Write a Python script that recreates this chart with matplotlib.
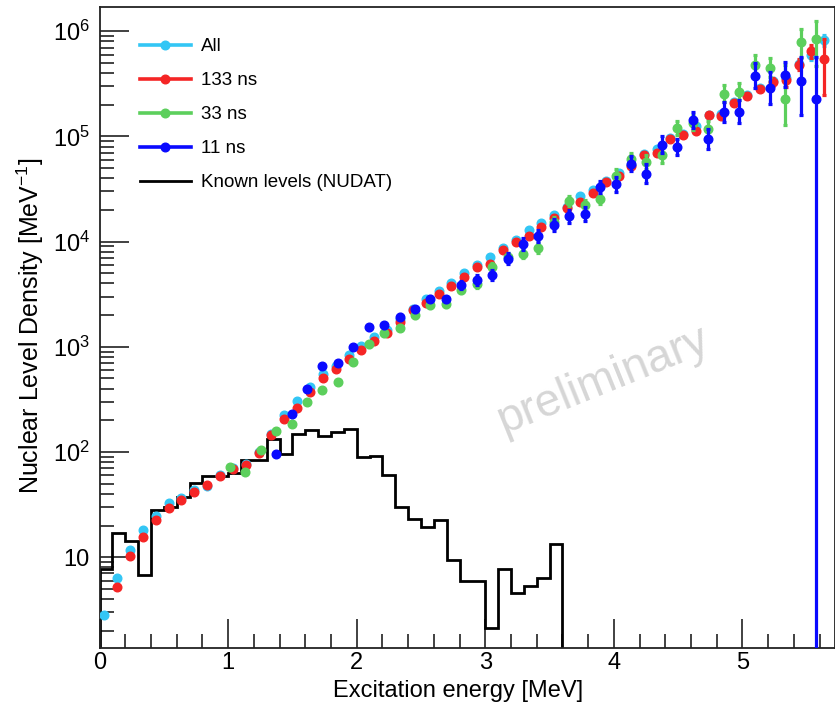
import numpy as np
import matplotlib
matplotlib.use('Agg')
import matplotlib.pyplot as plt
from matplotlib.lines import Line2D
from matplotlib.ticker import FixedLocator, FuncFormatter, NullFormatter

plt.rcParams['font.family'] = ['Liberation Sans', 'DejaVu Sans']
plt.rcParams['mathtext.fontset'] = 'custom'
plt.rcParams['mathtext.rm'] = 'Liberation Sans'
plt.rcParams['mathtext.it'] = 'Liberation Sans:italic'
plt.rcParams['mathtext.bf'] = 'Liberation Sans:bold'

# ---------------- data ----------------
# Known levels (NUDAT) histogram, 0.1 MeV bins starting at 0
nudat_edges = [0.0, 0.1, 0.2, 0.3, 0.4, 0.5, 0.6, 0.7, 0.8, 0.9, 1.0, 1.1, 1.2, 1.3, 1.4,
               1.5, 1.6, 1.7, 1.8, 1.9, 2.0, 2.1, 2.2, 2.3, 2.4, 2.5, 2.6, 2.7, 2.8, 2.9,
               3.0, 3.1, 3.2, 3.3, 3.4, 3.5, 3.6, 3.7, 3.8, 3.9, 4.0, 4.1, 4.2, 4.3, 4.4,
               4.5, 4.6, 4.7, 4.8, 4.9, 5.0, 5.1, 5.2, 5.3, 5.4, 5.5, 5.6, 5.7]
nudat_vals = [7.7, 17.0, 14.1, 6.7, 28, 29.7, 37, 51, 59, 59, 63, 84.5, 84.5, 133, 96,
              147, 161, 143, 156, 166, 89, 91, 61, 30, 23, 19.4, 22.5, 9.5, 5.9, 6.0,
              2.13, 7.7, 4.6, 5.3, 6.3, 13.4, 0, 0, 0, 0, 0, 0, 0, 0, 0,
              0, 0, 0, 0, 0, 0, 0, 0, 0, 0, 0, 0]

# "All" and "133 ns" share the same energy grid
e_all = [0.037, 0.137, 0.237, 0.337, 0.437, 0.537, 0.637, 0.737, 0.837, 0.937,
         1.037, 1.137, 1.237, 1.337, 1.437, 1.537, 1.637, 1.737, 1.837, 1.937,
         2.037, 2.137, 2.237, 2.337, 2.437, 2.537, 2.637, 2.737, 2.837, 2.937,
         3.037, 3.137, 3.237, 3.337, 3.437, 3.537, 3.637, 3.737, 3.837, 3.937,
         4.037, 4.137, 4.237, 4.337, 4.437, 4.537, 4.637, 4.737, 4.837, 4.937,
         5.037, 5.137, 5.237, 5.337, 5.437, 5.537, 5.637]
rho_all = [2.81, 6.4, 11.7, 18, 24.9, 32.4, 36.9, 44, 47.3, 59.9,
           70, 77, 101, 148, 224, 308, 419, 557, 650, 832,
           1020, 1250, 1460, 1850, 2310, 2820, 3400, 4050, 5050, 6000,
           7100, 8700, 10300, 12800, 14900, 17800, 21500, 27000, 30800, 37500,
           45000, 54000, 68000, 76700, 96000, 106000, 126000, 160000, 165000, 212000,
           245000, 290000, 340000, 360000, 490000, 600000, 820000]
err_all = [0.01] * 54 + [0.04, 0.05, 0.05]          # half-length of bar, decades

e_133 = e_all[1:]
rho_133 = [5.2, 10.2, 15.6, 22.5, 29.4, 34.8, 41.5, 48.3, 58.9,
           68.5, 75, 98, 144, 204, 262, 370, 500, 622, 774,
           929, 1145, 1355, 1727, 2260, 2614, 3162, 3765, 4560, 5754,
           6095, 8414, 9937, 11250, 13800, 16950, 20650, 23850, 29060, 36900,
           41900, 52000, 66300, 70000, 94000, 102600, 111900, 158900, 156600, 207000,
           240000, 283000, 330000, 342000, 482000, 646000, 550000]
err_133_lo = [0.01] * 51 + [0.04, 0.06, 0.05, 0.06, 0.35]
err_133_hi = [0.01] * 51 + [0.04, 0.06, 0.05, 0.06, 0.19]

# "33 ns" and "11 ns" share a second energy grid
e_33 = [1.014, 1.134, 1.254, 1.374, 1.494, 1.614, 1.734, 1.854, 1.974, 2.094,
        2.214, 2.334, 2.454, 2.574, 2.694, 2.814, 2.934, 3.054, 3.174, 3.294,
        3.414, 3.534, 3.654, 3.774, 3.894, 4.014, 4.134, 4.254, 4.374, 4.494,
        4.614, 4.734, 4.854, 4.974, 5.094, 5.214, 5.334, 5.454, 5.574]
rho_33 = [71.3, 64.6, 105.6, 159, 184, 296, 386, 463, 710, 1059,
          1355, 1524, 1995, 2483, 2543, 3506, 3936, 5754, 7100, 7710,
          8710, 15500, 24380, 22180, 25150, 42500, 60500, 57300, 66300, 120500,
          135000, 116900, 255800, 266000, 475000, 448000, 229000, 782000, 839000]
err_33_lo = [0.015] * 9 + [0.025] * 6 + [0.035] * 3 + [0.045] * 7 + \
            [0.06, 0.06, 0.07, 0.07, 0.07, 0.07, 0.08, 0.08, 0.08, 0.1, 0.09, 0.25, 0.15, 0.25]
err_33_hi = [0.015] * 9 + [0.025] * 6 + [0.035] * 3 + [0.045] * 7 + \
            [0.06, 0.06, 0.07, 0.07, 0.07, 0.07, 0.08, 0.08, 0.08, 0.1, 0.09, 0.32, 0.127, 0.17]

e_11 = e_33[3:]
rho_11 = [95.3, 229, 398, 655, 703, 1000, 1535, 1603, 1922, 2277,
          2878, 2831, 3856, 4295, 4797, 6900, 9440, 11250, 14310, 17430,
          18200, 33100, 35000, 55200, 44400, 83700, 79200, 142600, 95500, 171000,
          172000, 379000, 289000, 387000, 335000, 229000]
err_11_lo = [0.02] * 6 + [0.025] * 6 + [0.04, 0.045, 0.05] + \
            [0.05, 0.055, 0.055, 0.059, 0.06, 0.068, 0.059] + \
            [0.071, 0.075, 0.087, 0.079, 0.08, 0.074, 0.095] + \
            [0.095, 0.11, 0.119, 0.15, 0.116, 0.32, 6.0]
err_11_hi = [0.02] * 6 + [0.025] * 6 + [0.04, 0.045, 0.05] + \
            [0.05, 0.055, 0.055, 0.059, 0.06, 0.068, 0.059] + \
            [0.071, 0.075, 0.087, 0.079, 0.08, 0.074, 0.095] + \
            [0.095, 0.11, 0.119, 0.15, 0.116, 0.23, 0.40]

labels = ['All', '133 ns', '33 ns', '11 ns', 'Known levels (NUDAT)']
colors = ['#33c6f5', '#f52525', '#5ccf5c', '#0a0aff', 'black']

# ---------------- figure ----------------
W, H = 835, 707
fig = plt.figure(figsize=(W / 100, H / 100), dpi=100)
ax = fig.add_axes([99.5 / W, (H - 648) / H, (835 - 99.5) / W, (648 - 7) / H])
ax.set_yscale('log')
ax.set_xlim(0, 5.72)
ax.set_ylim(1.37, 1.7e6)

nv = np.array(nudat_vals, dtype=float)
ax.stairs(np.where(nv > 0, nv, 1e-3), nudat_edges, color='black', lw=2.0, zorder=2)


def draw(e, v, lo, hi, c, z):
    v = np.asarray(v, float)
    lo = np.asarray(lo, float)
    hi = np.asarray(hi, float)
    yl = v - v / 10 ** lo
    yh = v * 10 ** hi - v
    ax.errorbar(e, v, yerr=[yl, yh], fmt='o', color=c, mfc=c, mec=c, ms=6.2,
                elinewidth=2.3, capsize=1.6, capthick=2.3, zorder=z)


draw(e_all, rho_all, err_all, err_all, colors[0], 3)
draw(e_133, rho_133, err_133_lo, err_133_hi, colors[1], 4)
draw(e_33, rho_33, err_33_lo, err_33_hi, colors[2], 5)
draw(e_11, rho_11, err_11_lo, err_11_hi, colors[3], 6)

# watermark
fig.text(603 / W, 1 - 381 / H, 'preliminary', color='#d6d6d6', fontsize=33,
         rotation=22, ha='center', va='center', zorder=1)

# axes styling (ROOT-like)
for s in ax.spines.values():
    s.set_linewidth(1.3)
    s.set_color('#222222')
ax.xaxis.set_major_locator(FixedLocator([0, 1, 2, 3, 4, 5]))
ax.xaxis.set_minor_locator(FixedLocator([0.2, 0.4, 0.6, 0.8, 1.2, 1.4, 1.6, 1.8, 2.2, 2.4,
                                         2.6, 2.8, 3.2, 3.4, 3.6, 3.8, 4.2, 4.4, 4.6, 4.8,
                                         5.2, 5.4, 5.6]))
ax.yaxis.set_major_locator(FixedLocator([10, 1e2, 1e3, 1e4, 1e5, 1e6]))
minors = [m * 10.0 ** d for d in range(0, 7) for m in range(2, 10)]
ax.yaxis.set_minor_locator(FixedLocator(minors))
ax.yaxis.set_minor_formatter(NullFormatter())


def yfmt(v, pos):
    n = int(round(np.log10(v)))
    return '10' if n == 1 else r'$\mathregular{10^{%d}}$' % n


ax.yaxis.set_major_formatter(FuncFormatter(yfmt))
ax.tick_params(which='both', direction='in', top=False, right=False, color='#333333', width=1.3)
ax.tick_params(which='major', length=21, labelsize=17, pad=7)
ax.tick_params(which='minor', length=10)
ax.tick_params(axis='x', which='major', pad=3)

fig.text(458 / W, 1 - 691 / H, 'Excitation energy [MeV]', fontsize=17, ha='center', va='center')
fig.text(30 / W, 1 - 326 / H, r'Nuclear Level Density [MeV$^{\mathregular{-1}}$]', fontsize=18,
         rotation=90, ha='center', va='center')

handles = [Line2D([0], [0], color=c, lw=2.6, marker='o', ms=6.2) for c in colors[:4]]
handles.append(Line2D([0], [0], color='black', lw=2.0))
leg = fig.legend(handles, labels, loc='upper left', bbox_to_anchor=(140 / W, 1 - 38 / H),
                 frameon=False, fontsize=13.5, handlelength=2.7, handletextpad=0.55,
                 labelspacing=0.9, borderpad=0, borderaxespad=0)

fig.savefig('out.png', dpi=100)
